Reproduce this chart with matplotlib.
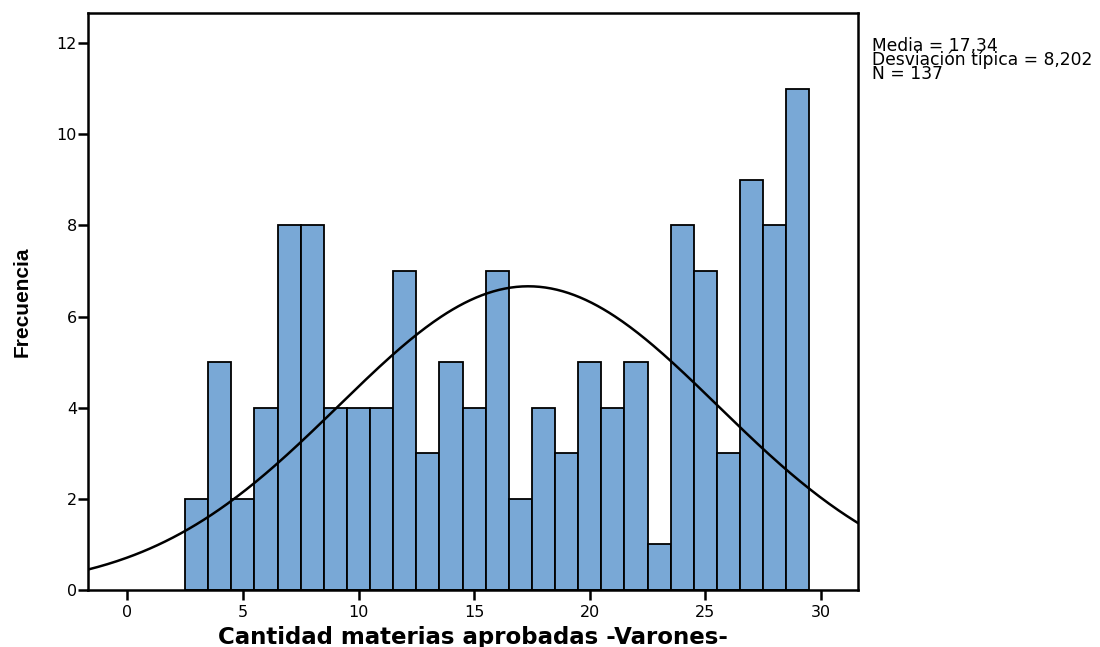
import numpy as np
import matplotlib
matplotlib.use("Agg")
import matplotlib.pyplot as plt

bin_centers = list(range(3, 30))
counts = [2, 5, 2, 4, 8, 8, 4, 4, 4, 7, 3, 5, 4, 7, 2, 4, 3, 5, 4, 5, 1, 8, 7, 3, 9, 8, 11]
mean = 17.34
std = 8.202
n = 137
stats_text = "Media = 17,34\nDesviación típica = 8,202\nN = 137"

plt.rcParams['font.family'] = ['DejaVu Sans']

fig = plt.figure(figsize=(11, 6.47), dpi=100)
ax = fig.add_axes([0.08, 0.088, 0.70, 0.892])

ax.bar(bin_centers, counts, width=1.0, color='#79A8D6', edgecolor='black', linewidth=1.3, zorder=2)

xs = np.linspace(-1.7, 31.6, 400)
ys = n * 1.0 / (std * np.sqrt(2 * np.pi)) * np.exp(-0.5 * ((xs - mean) / std) ** 2)
ax.plot(xs, ys, color='black', linewidth=1.8, zorder=3)

ax.set_xlim(-1.7, 31.6)
ax.set_ylim(0, 12.66)
ax.set_xticks([0, 5, 10, 15, 20, 25, 30])
ax.set_yticks([0, 2, 4, 6, 8, 10, 12])
for s in ax.spines.values():
    s.set_linewidth(1.8)
ax.tick_params(axis='both', direction='out', length=7, width=1.8, labelsize=11.5)
ax.tick_params(axis='y', pad=1)
ax.tick_params(axis='x', pad=4)

ax.set_xlabel('Cantidad materias aprobadas -Varones-', fontsize=16.5, fontweight='bold', labelpad=4)
ax.set_ylabel('Frecuencia', fontsize=15, fontweight='bold', labelpad=18,
              family=['Liberation Sans Narrow', 'Liberation Sans'])

fig.text(0.793, 0.943, stats_text, fontsize=12.3, va='top', ha='left', linespacing=0.72)

fig.savefig('out.png', dpi=100)
